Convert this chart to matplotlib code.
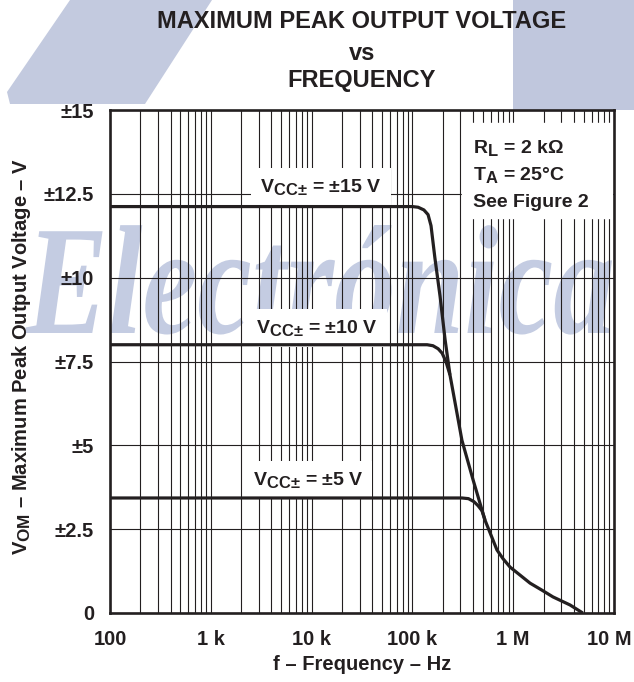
import numpy as np
import matplotlib
matplotlib.use("Agg")
import matplotlib.pyplot as plt
import matplotlib._mathtext as mathtext_impl
from matplotlib.ticker import LogLocator, NullFormatter
from matplotlib.textpath import TextPath
from matplotlib.patches import PathPatch, Polygon, Rectangle
from matplotlib.font_manager import FontProperties
from matplotlib.transforms import Affine2D, ScaledTranslation

# --- data ---
freq_15 = [100, 100e3, 114e3, 130e3, 143e3, 153e3, 167e3, 188e3, 211e3, 236e3,
           310e3, 400e3, 525e3, 690e3, 792e3, 930e3, 1.47e6, 1.93e6, 2.48e6, 3.66e6, 4.9e6]
vom_15 = [12.12, 12.12, 12.1, 12.02, 11.88, 11.55, 10.6, 9.45, 8.15, 7.1,
          5.15, 3.97, 2.77, 1.88, 1.62, 1.37, 0.89, 0.68, 0.48, 0.24, 0.0]

freq_10 = [100, 140e3, 160e3, 180e3, 197e3, 215e3, 236e3]
vom_10 = [8.0, 8.0, 7.97, 7.88, 7.75, 7.5, 7.1]

freq_5 = [100, 310e3, 360e3, 408e3, 448e3, 490e3, 525e3]
vom_5 = [3.43, 3.43, 3.41, 3.32, 3.2, 3.05, 2.77]

x_ticks = [100, 1e3, 1e4, 1e5, 1e6, 1e7]
x_tick_labels = ["100", "1 k", "10 k", "100 k", "1 M", "10 M"]
y_ticks = [0, 2.5, 5, 7.5, 10, 12.5, 15]
y_tick_labels = ["0", "±2.5", "±5", "±7.5", "±10", "±12.5", "±15"]

W, H = 634, 682
ink = "#231f20"
wm_color = "#c4cce2"

# datasheet style subscripts are only a little smaller than the main text
mathtext_impl.SHRINK_FACTOR = 0.85

plt.rcParams['font.family'] = ['Liberation Sans', 'DejaVu Sans']
plt.rcParams['font.weight'] = 'bold'
plt.rcParams['axes.labelweight'] = 'bold'
plt.rcParams['mathtext.fontset'] = 'custom'
plt.rcParams['mathtext.rm'] = 'Liberation Sans:bold'
plt.rcParams['mathtext.bf'] = 'Liberation Sans:bold'
plt.rcParams['mathtext.it'] = 'Liberation Sans:bold'
plt.rcParams['mathtext.default'] = 'rm'

fig = plt.figure(figsize=(W / 100, H / 100), dpi=100)


def px(x, y):
    # pixel (from top-left) -> figure fraction
    return (x / W, 1 - y / H)


# === background decorations (scan overlay) ===
fig.add_artist(Polygon([px(70, 0), px(212, 0), px(145, 104), px(10, 104), px(7, 92)],
                       closed=True, transform=fig.transFigure, fc="#c3cadf", ec="none", zorder=-2))
fig.add_artist(Rectangle(px(513, 110), 121 / W, 110 / H, transform=fig.transFigure,
                         fc="#c0c7dd", ec="none", zorder=-2))

wm_prop = FontProperties(family='Liberation Serif', style='italic', weight='bold')
tp = TextPath((0, 0), "Electrónica", size=100, prop=wm_prop)
ext = tp.get_extents()
sx = (612 - 25) / ext.width
sy = (333 - 225) / ext.y1
wm_trans = (Affine2D().translate(-ext.x0, 0).scale(sx, sy).translate(25, H - 333)
            .scale(1 / W, 1 / H) + fig.transFigure)
fig.add_artist(PathPatch(tp, transform=wm_trans, fc=wm_color, ec="none", zorder=-1))

# === axes ===
ax = fig.add_axes([110 / W, (H - 613) / H, 504 / W, 503 / H])
ax.set_facecolor("none")
ax.set_xscale("log")
ax.set_xlim(100, 1e7)
ax.set_ylim(0, 15)

ax.set_xticks(x_ticks)
ax.set_xticklabels(x_tick_labels)
ax.xaxis.set_minor_locator(LogLocator(base=10, subs=np.arange(2, 10)))
ax.xaxis.set_minor_formatter(NullFormatter())
ax.set_yticks(y_ticks)
ax.set_yticklabels(y_tick_labels)

ax.tick_params(axis="both", which="both", length=0, labelsize=14.5, colors=ink)
ax.tick_params(axis="x", pad=12)
ax.tick_params(axis="y", pad=11.5)
for lbl in ax.get_xticklabels() + ax.get_yticklabels():
    lbl.set_fontweight("bold")
# last x label sits a little left of its gridline in the reference
last = ax.get_xticklabels()[-1]
last.set_transform(last.get_transform() + ScaledTranslation(-5 / 100, 0, fig.dpi_scale_trans))

ax.grid(True, axis="x", which="both", color=ink, lw=0.8, zorder=1)
ax.grid(True, axis="y", which="major", color=ink, lw=0.8, zorder=1)
ax.set_axisbelow(True)
for s in ax.spines.values():
    s.set_linewidth(1.9)
    s.set_color(ink)
    s.set_zorder(6)

# curves
for f, v in [(freq_15, vom_15), (freq_10, vom_10), (freq_5, vom_5)]:
    ax.plot(f, v, color=ink, lw=2.3, solid_capstyle="butt", solid_joinstyle="round", zorder=5)

# curve labels
box = dict(boxstyle="square,pad=0.45", fc="white", ec="none")
ax.text(12.4e3, 12.56, r"V$_{CC±}$ = ±15 V", fontsize=14, fontweight="bold", ha="center",
        va="baseline", color=ink, bbox=box, zorder=4)
ax.text(11.3e3, 8.35, r"V$_{CC±}$ = ±10 V", fontsize=14, fontweight="bold", ha="center",
        va="baseline", color=ink, bbox=box, zorder=4)
ax.text(9.2e3, 3.82, r"V$_{CC±}$ = ±5 V", fontsize=14, fontweight="bold", ha="center",
        va="baseline", color=ink, bbox=box, zorder=4)

# conditions box
ax.fill([310e3, 9.55e6, 9.55e6, 310e3], [11.78, 11.78, 14.61, 14.61], color="white", zorder=3)
cond_kw = dict(fontsize=14, fontweight="bold", ha="left", va="baseline", color=ink, zorder=4)
ax.text(399e3, 13.72, r"R$_{L}$ = 2 kΩ", **cond_kw)
ax.text(399e3, 12.91, r"T$_{A}$ = 25°C", **cond_kw)
ax.text(399e3, 12.11, "See Figure 2", **cond_kw)

# axis labels
ax.set_xlabel("f – Frequency – Hz", fontsize=14.5, fontweight="bold", color=ink)
ax.xaxis.set_label_coords(0.5, -0.084)
ax.set_ylabel(r"V$_{OM}$ – Maximum Peak Output Voltage – V", fontsize=14.5, fontweight="bold", color=ink)
ax.yaxis.set_label_coords(-0.153, 0.51)

# title
tx = 362 / W
title_kw = dict(fontsize=17, fontweight="bold", ha="center", va="center", color=ink)
fig.text(tx, 1 - 22 / H, "MAXIMUM PEAK OUTPUT VOLTAGE", **title_kw)
fig.text(tx, 1 - 53 / H, "vs", **title_kw)
fig.text(tx, 1 - 80 / H, "FREQUENCY", **title_kw)

fig.savefig("out.png", dpi=100)
